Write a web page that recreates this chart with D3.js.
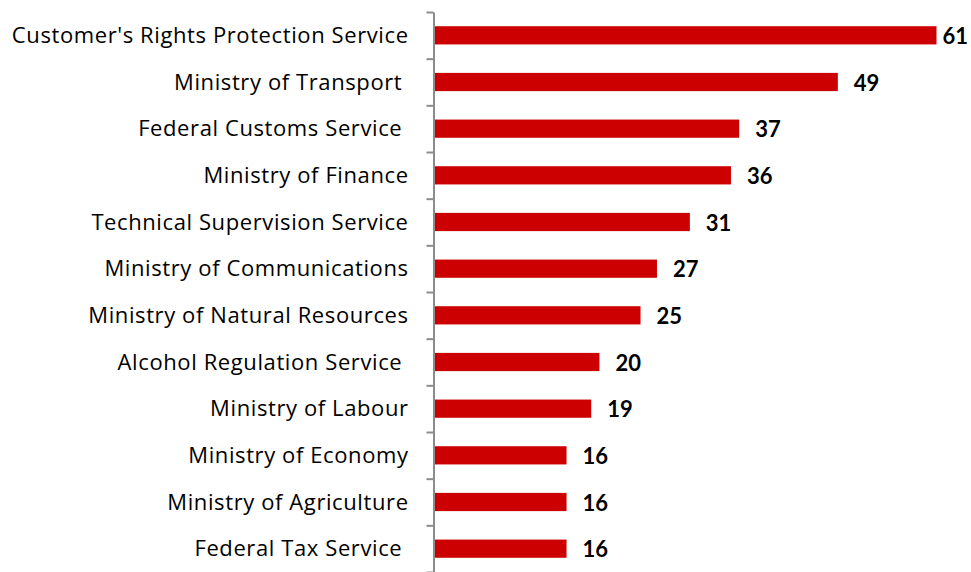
<!DOCTYPE html>
<html>
<head>
<meta charset="utf-8">
<script src="https://cdn.jsdelivr.net/npm/d3@7"></script>
<style>
  body { margin: 0; background: #fff; }
  svg { display: block; }
</style>
</head>
<body>
<script>
const width = 971,
      height = 572;

// agencies, top to bottom (trailing spaces kept as in the original labels)
const agencies = [
  "Customer's Rights Protection Service",
  "Ministry of Transport ",
  "Federal Customs Service ",
  "Ministry of Finance",
  "Technical Supervision Service",
  "Ministry of Communications",
  "Ministry of Natural Resources",
  "Alcohol Regulation Service ",
  "Ministry of Labour",
  "Ministry of Economy",
  "Ministry of Agriculture",
  "Federal Tax Service "
];
const counts = [61, 49, 37, 36, 31, 27, 25, 20, 19, 16, 16, 16];

const axisX = 433.5,
      plotTop = 12,
      plotBottom = 572;

var svg = d3.select("body").append("svg")
	.attr("width", width)
	.attr("height", height)

var y = d3.scaleBand()
	.domain(agencies)
	.range([plotTop, plotBottom])
	.paddingInner(0.61)
	.paddingOuter(0.305)

var x = d3.scaleLinear()
	.domain([0, 61])
	.range([axisX + 1.5, 936.5])

// tick marks sit between the categories
var edge = d3.scaleLinear()
	.domain([0, agencies.length])
	.range([plotTop, plotBottom])

var axis = svg.append("g")
	.attr("transform", "translate(" + axisX + ",0)")
	.call(d3.axisLeft(edge)
		.tickValues(d3.range(agencies.length + 1))
		.tickFormat("")
		.tickSize(7)
		.tickSizeOuter(0))

axis.selectAll("path, line")
	.attr("stroke", "#8c8c8c")
	.attr("stroke-width", 2)

svg.selectAll(".bar")
	.data(agencies)
	.enter().append("rect")
	.attr("class", "bar")
	.attr("x", x(0))
	.attr("y", d => y(d))
	.attr("width", (d, i) => x(counts[i]) - x(0))
	.attr("height", y.bandwidth())
	.attr("fill", "#cc0000")

svg.selectAll(".name")
	.data(agencies)
	.enter().append("text")
	.attr("class", "name")
	.attr("x", 408.6)
	.attr("y", d => y(d) + y.bandwidth() / 2)
	.attr("dy", "0.35em")
	.attr("text-anchor", "end")
	.style("white-space", "pre")
	.style("letter-spacing", "0.6px")
	.style("font-family", "'Open Sans', Lato, sans-serif")
	.style("font-size", "22px")
	.attr("fill", "#000")
	.text(d => d)

var vals = svg.selectAll(".val")
	.data(agencies)
	.enter().append("text")
	.attr("class", "val")
	.attr("y", d => y(d) + y.bandwidth() / 2)
	.attr("dy", "0.4em")
	.style("font-family", "Lato, 'Open Sans', sans-serif")
	.style("font-weight", "bold")
	.style("font-size", "22px")
	.attr("fill", "#000")
	.text((d, i) => counts[i])

// keep the value labels inside the picture, as the original does for 61
vals.attr("x", function (d, i) {
	var w = this.getComputedTextLength()
	return Math.min(x(counts[i]) + 16, width - 3 - w)
})
</script>
</body>
</html>
